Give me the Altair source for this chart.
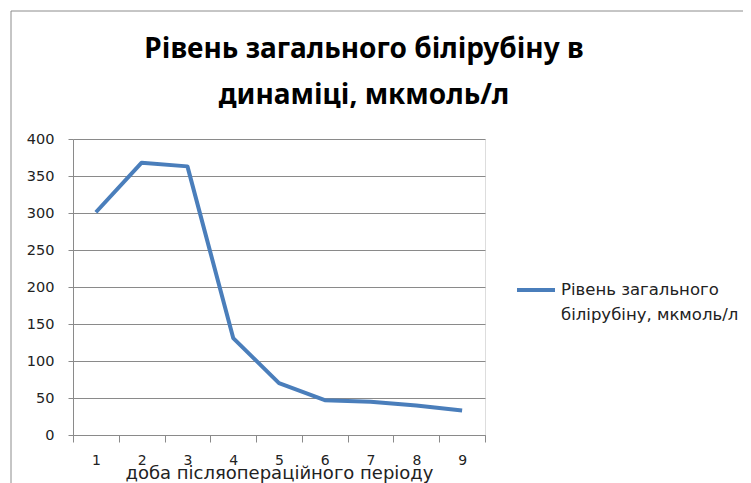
import altair as alt
import pandas as pd

days = [1, 2, 3, 4, 5, 6, 7, 8, 9]
bilirubin = [301, 368, 363, 131, 70, 47, 45, 40, 33]
series_name = "Рівень загального|білірубіну, мкмоль/л"
title_text = "Рівень загального білірубіну в|динаміці, мкмоль/л"
x_title = "доба післяопераційного періоду"
y_ticks = [0, 50, 100, 150, 200, 250, 300, 350, 400]

df = pd.DataFrame({"day": days, "value": bilirubin})
W, H = 412, 296
GRID = "#8a8a8a"
FONT = "DejaVu Sans"

line = alt.Chart(df).mark_line(color="#4a7ebb", strokeWidth=4, strokeJoin="round").encode(
    x=alt.X("day:O",
            scale=alt.Scale(type="band", paddingInner=0, paddingOuter=0),
            axis=alt.Axis(grid=False, tickBand="extent", labelAngle=0, labelPadding=11,
                          tickSize=7, tickColor=GRID, domainColor=GRID,
                          labelFont=FONT, labelFontSize=14, labelColor="#222",
                          title=x_title, titleFont=FONT, titleFontSize=18,
                          titleFontWeight="normal", titleColor="#222",
                          titleBaseline="alphabetic", titleY=43)),
    y=alt.Y("value:Q",
            scale=alt.Scale(domain=[0, 400], nice=False),
            axis=alt.Axis(values=y_ticks, grid=True, gridColor=GRID, gridOpacity=1,
                          tickSize=5, tickColor=GRID, domainColor=GRID,
                          labelFont=FONT, labelFontSize=14.5, labelColor="#222",
                          labelPadding=14, title=None)),
)

leg_df = pd.DataFrame({"name": [series_name]})
leg_line = alt.Chart(leg_df).mark_rule(color="#4a7ebb", strokeWidth=4).encode(
    x=alt.value(517 - 73), x2=alt.value(555 - 73), y=alt.value(290 - 139)
)
leg_text = alt.Chart(leg_df).mark_text(
    align="left", baseline="middle", lineBreak="|", lineHeight=25,
    font=FONT, fontSize=16.5, color="#222"
).encode(
    x=alt.value(561 - 73), y=alt.value(290 - 139), text="name:N"
)

title_df = pd.DataFrame({"t": [title_text]})
title = alt.Chart(title_df).mark_text(
    align="center", baseline="middle", lineBreak="|", lineHeight=46,
    font="Noto Sans", fontSize=28, fontWeight="bold", color="#000"
).encode(
    x=alt.value(364 - 73), y=alt.value(50 - 139), text="t:N"
)

frame_df = pd.DataFrame({"k": [0]})
frame_left = alt.Chart(frame_df).mark_rule(color="#8c8c8c", strokeWidth=1).encode(
    x=alt.value(11 - 73), y=alt.value(11 - 139), y2=alt.value(500)
)
frame_top = alt.Chart(frame_df).mark_rule(color="#8c8c8c", strokeWidth=1).encode(
    x=alt.value(11 - 73), x2=alt.value(800), y=alt.value(11 - 139)
)

chart = alt.layer(frame_left, frame_top, line, leg_line, leg_text, title).properties(
    width=W, height=H,
    autosize=alt.AutoSizeParams(type="none"),
    padding={"left": 65, "top": 131, "right": 258, "bottom": 48},
).configure_view(stroke=None).configure(background="white")

chart.save("out.html", embed_options={"renderer": "svg", "actions": False})
